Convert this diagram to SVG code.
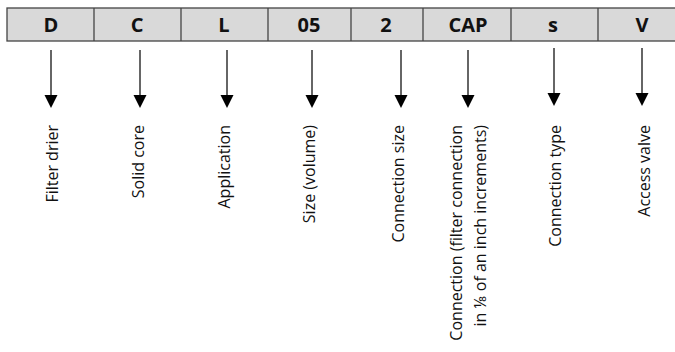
<svg xmlns="http://www.w3.org/2000/svg" width="675" height="352" viewBox="0 0 675 352">
<defs>
<style>
.cell{fill:#d9d9d9;stroke:#444;stroke-width:1.3}
.div{stroke:#444;stroke-width:1.3}
.code{font-family:"Open Sans","Liberation Sans",sans-serif;font-weight:bold;font-size:20px;fill:#111;text-anchor:middle}
.lbl{font-family:"Open Sans","Liberation Sans",sans-serif;font-size:16px;fill:#111;text-anchor:end}
.conn line{stroke:#333;stroke-width:1.5}
</style>
<path id="tri" d="M-6.5,0 L6.5,0 L0,13 Z" fill="#000"/>
</defs>
<rect x="-5" y="-5" width="685" height="362" fill="#fff"/>
<g id="bar">
<rect class="cell" x="7" y="8" width="680" height="33"/>
<line class="div" x1="94" y1="8" x2="94" y2="41"/>
<line class="div" x1="181" y1="8" x2="181" y2="41"/>
<line class="div" x1="268" y1="8" x2="268" y2="41"/>
<line class="div" x1="351" y1="8" x2="351" y2="41"/>
<line class="div" x1="423" y1="8" x2="423" y2="41"/>
<line class="div" x1="511" y1="8" x2="511" y2="41"/>
<line class="div" x1="598" y1="8" x2="598" y2="41"/>
</g>
<g id="n1"><text class="code" x="51" y="32">D</text><text class="lbl" transform="translate(58,125) rotate(-90)">Filter drier</text></g>
<g id="n2"><text class="code" x="137" y="32">C</text><text class="lbl" transform="translate(144,125) rotate(-90)">Solid core</text></g>
<g id="n3"><text class="code" x="224" y="32">L</text><text class="lbl" transform="translate(230,125) rotate(-90)">Application</text></g>
<g id="n4"><text class="code" x="309" y="32">05</text><text class="lbl" transform="translate(315,125) rotate(-90)">Size (volume)</text></g>
<g id="n5"><text class="code" x="386" y="32">2</text><text class="lbl" transform="translate(404,125) rotate(-90)">Connection size</text></g>
<g id="n6"><text class="code" x="468" y="32">CAP</text><text class="lbl" transform="translate(462,125) rotate(-90)">Connection (filter connection</text><text class="lbl" transform="translate(486,125) rotate(-90)">in ⅛ of an inch increments)</text></g>
<g id="n7"><text class="code" x="553" y="32">s</text><text class="lbl" transform="translate(561,125) rotate(-90)">Connection type</text></g>
<g id="n8"><text class="code" x="642" y="32">V</text><text class="lbl" transform="translate(650,125) rotate(-90)">Access valve</text></g>
<g id="connectors" class="conn">
<line x1="51" y1="50" x2="51" y2="96"/><use href="#tri" x="51" y="95"/>
<line x1="140" y1="50" x2="140" y2="96"/><use href="#tri" x="140" y="95"/>
<line x1="227" y1="50" x2="227" y2="96"/><use href="#tri" x="227" y="95"/>
<line x1="312" y1="50" x2="312" y2="96"/><use href="#tri" x="312" y="95"/>
<line x1="401" y1="50" x2="401" y2="96"/><use href="#tri" x="401" y="95"/>
<line x1="468" y1="50" x2="468" y2="96"/><use href="#tri" x="468" y="95"/>
<line x1="554" y1="48" x2="554" y2="94"/><use href="#tri" x="554" y="93"/>
<line x1="642" y1="48" x2="642" y2="94"/><use href="#tri" x="642" y="93"/>
</g>
</svg>
